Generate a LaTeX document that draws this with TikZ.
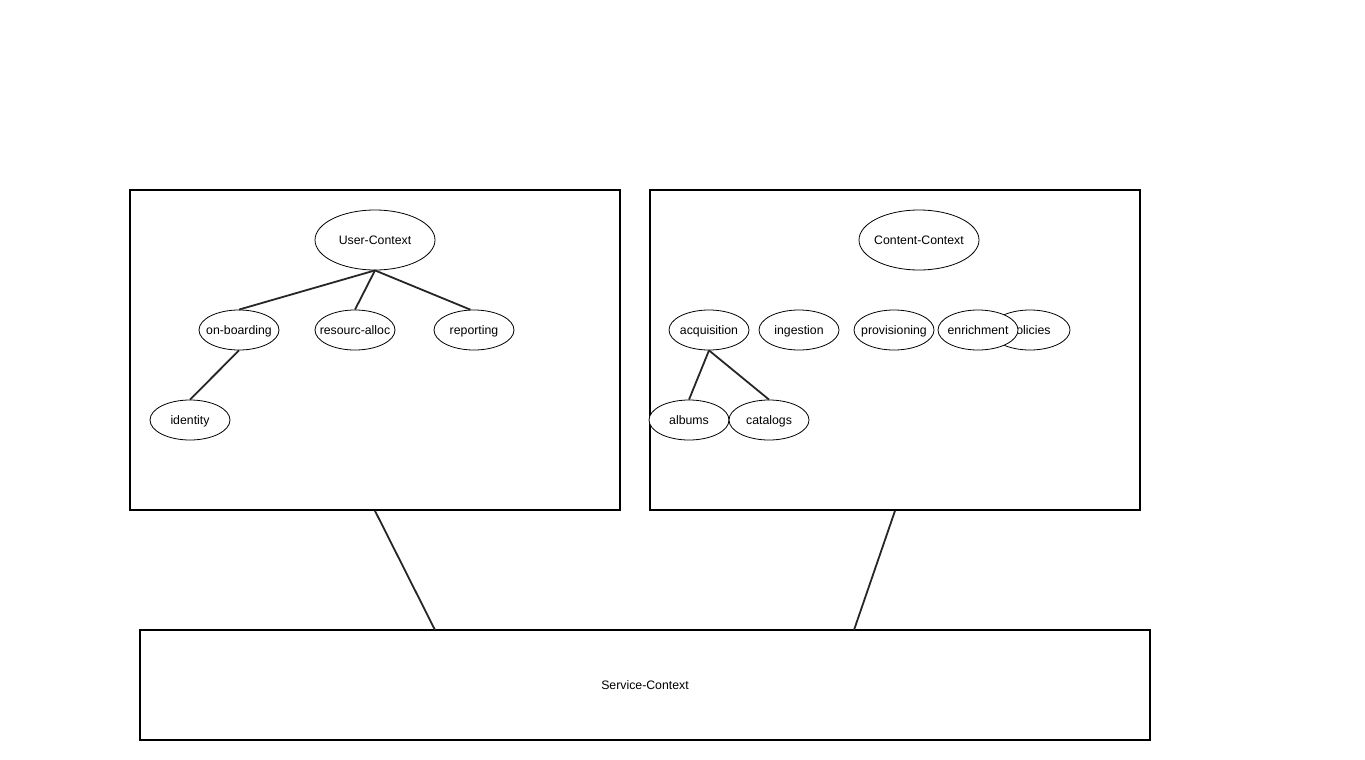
\documentclass[tikz,border=0pt]{standalone}
\usepackage{fontspec}
\setmainfont{Liberation Sans}
\usepackage{tikz}
\usetikzlibrary{shapes.geometric}

\begin{document}
\begin{tikzpicture}[x=1pt, y=-1pt,
	every node/.style={font=\fontsize{12.3}{14}\selectfont, text height=8.6pt, text depth=0.4pt},
	ctxbox/.style={draw, line width=1.6pt, inner sep=0pt},
	bubble/.style={ellipse, draw, fill=white, line width=0.8pt, inner sep=0pt, minimum width=80pt, minimum height=40pt,
		execute at begin node={\hbox to 0pt\bgroup\hss}, execute at end node={\hss\egroup}},
	bigbubble/.style={bubble, minimum width=120pt, minimum height=60pt},
	link/.style={draw=black!85, line width=1.8pt}]
	\useasboundingbox (0,0) rectangle (1365,760);
	% the three contexts
	\node[ctxbox, minimum width=490pt, minimum height=320pt] (userbox) at (375,350) {};
	\node[ctxbox, minimum width=490pt, minimum height=320pt] (contentbox) at (895,350) {};
	\node[ctxbox, minimum width=1010pt, minimum height=110pt] (svc) at (645,685) {Service-Context};
	\coordinate (svcL) at (435,630);
	\coordinate (svcR) at (854,630);
	\draw[link] (userbox.south) -- (svcL);
	\draw[link] (contentbox.south) -- (svcR);
	% user side
	\node[bigbubble] (uc) at (375,240) {User-Context};
	\node[bubble] (onb) at (239,330) {on-boarding};
	\node[bubble] (res) at (355,330) {resourc-alloc};
	\node[bubble] (rep) at (474,330) {reporting};
	\node[bubble] (idt) at (190,420) {identity};
	\draw[link] (uc.south) -- (onb.north);
	\draw[link] (uc.south) -- (res.north);
	\draw[link] (uc.south) -- (rep.100);
	\draw[link] (onb.south) -- (idt.north);
	% content side
	\node[bigbubble] (cc) at (919,240) {Content-Context};
	\node[bubble] (acq) at (709,330) {acquisition};
	\node[bubble] (ing) at (799,330) {ingestion};
	\node[bubble] (prov) at (894,330) {provisioning};
	\node[bubble] (pol) at (1030,330) {policies};
	\node[bubble] (enr) at (978,330) {enrichment};
	\node[bubble] (alb) at (689,420) {albums};
	\node[bubble] (cat) at (769,420) {catalogs};
	\draw[link] (acq.south) -- (alb.north);
	\draw[link] (acq.south) -- (cat.north);
\end{tikzpicture}
\end{document}
